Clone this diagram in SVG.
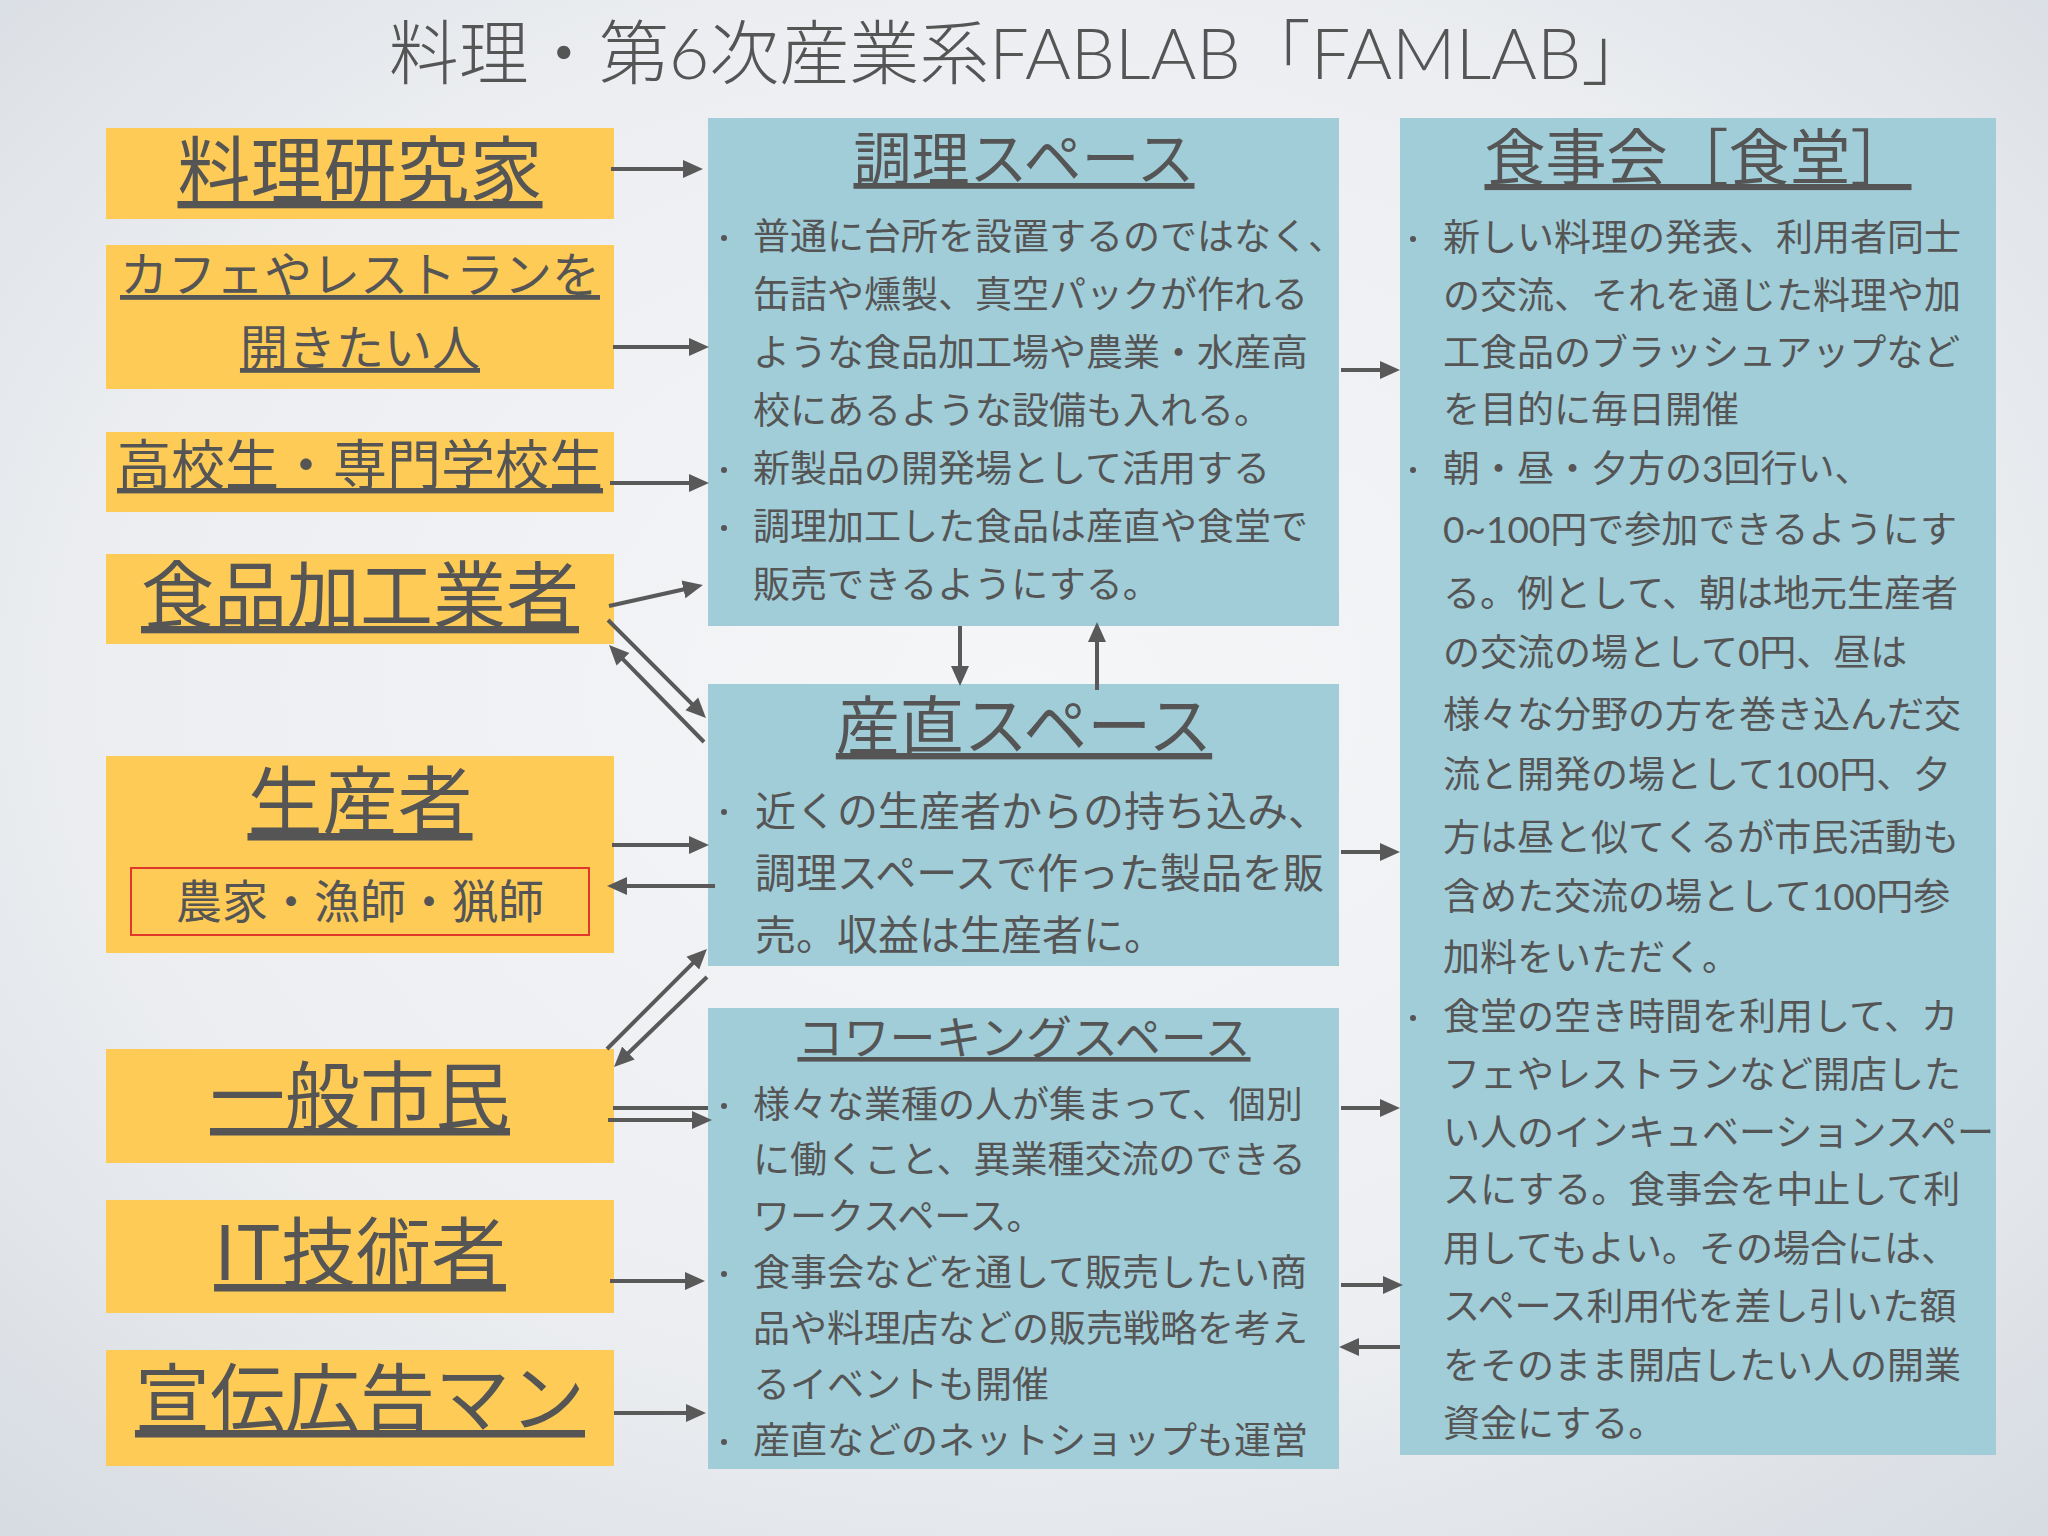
<svg xmlns="http://www.w3.org/2000/svg" width="2048" height="1536" viewBox="0 0 2048 1536">
<defs>
<radialGradient id="bg" cx="50%" cy="45%" r="75%">
<stop offset="0" stop-color="#f5f6f8"/>
<stop offset="0.6" stop-color="#eceef1"/>
<stop offset="1" stop-color="#d6dbe1"/>
</radialGradient>
<marker id="ah" markerUnits="userSpaceOnUse" markerWidth="20" markerHeight="20" refX="10" refY="10" orient="auto">
<path d="M0,1 L20,10 L0,19 z" fill="#595959"/>
</marker>
<style>
.title{font-family:"Lato","Noto Sans CJK JP",sans-serif;font-weight:300;font-size:70px;fill:#555;text-anchor:middle}
.org{fill:#fecb56}
.blu{fill:#a0cdd8}
.lbl{font-family:"Noto Sans CJK JP",sans-serif;fill:#555;text-anchor:middle;text-decoration:underline}
.sub{font-family:"Noto Sans CJK JP",sans-serif;fill:#555;text-anchor:middle;font-size:46px}
.body{font-family:"Lato","Noto Sans CJK JP",sans-serif;font-size:37px;fill:#555}
.big{font-size:41px}
.dot{fill:#555}
.con path{fill:none;stroke:#595959;stroke-width:4}
.con .a{marker-end:url(#ah)}
</style>
</defs>
<rect width="2048" height="1536" fill="url(#bg)"/>
<text class="title" x="1020" y="79">料理・第6次産業系FABLAB「FAMLAB」</text>

<g id="n-ryouri-kenkyuuka"><rect class="org" x="106" y="128" width="508" height="91"/><text class="lbl" x="360" y="197" font-size="73">料理研究家</text></g>
<g id="n-cafe"><rect class="org" x="106" y="245" width="508" height="144"/><text class="lbl" x="360" y="292" font-size="48">カフェやレストランを</text><text class="lbl" x="360" y="365" font-size="48">開きたい人</text></g>
<g id="n-student"><rect class="org" x="106" y="432" width="508" height="80"/><text class="lbl" x="360" y="485" font-size="54">高校生・専門学校生</text></g>
<g id="n-food-processor"><rect class="org" x="106" y="554" width="508" height="90"/><text class="lbl" x="360" y="622" font-size="73">食品加工業者</text></g>
<g id="n-producer"><rect class="org" x="106" y="756" width="508" height="197"/><text class="lbl" x="360" y="829" font-size="75">生産者</text><rect x="131" y="868" width="458" height="67" fill="none" stroke="#e0392b" stroke-width="2"/><text class="sub" x="360" y="918">農家・漁師・猟師</text></g>
<g id="n-citizen"><rect class="org" x="106" y="1049" width="508" height="114"/><text class="lbl" x="360" y="1124" font-size="75">一般市民</text></g>
<g id="n-it"><rect class="org" x="106" y="1200" width="508" height="113"/><text class="lbl" x="360" y="1280" font-size="75">IT技術者</text></g>
<g id="n-ad"><rect class="org" x="106" y="1350" width="508" height="116"/><text class="lbl" x="360" y="1426" font-size="75">宣伝広告マン</text></g>

<g id="n-cooking-space"><rect class="blu" x="708" y="118" width="631" height="508"/>
<text class="lbl" x="1024" y="180" font-size="58">調理スペース</text>
<circle class="dot" cx="724" cy="238" r="3"/><circle class="dot" cx="724" cy="470" r="3"/><circle class="dot" cx="724" cy="528" r="3"/>
<text class="body" x="753" y="250">普通に台所を設置するのではなく、</text>
<text class="body" x="753" y="308">缶詰や燻製、真空パックが作れる</text>
<text class="body" x="753" y="366">ような食品加工場や農業・水産高</text>
<text class="body" x="753" y="424">校にあるような設備も入れる。</text>
<text class="body" x="753" y="482">新製品の開発場として活用する</text>
<text class="body" x="753" y="540">調理加工した食品は産直や食堂で</text>
<text class="body" x="753" y="598">販売できるようにする。</text>
</g>

<g id="n-direct-space"><rect class="blu" x="708" y="684" width="631" height="282"/>
<text class="lbl" x="1024" y="749" font-size="64">産直スペース</text>
<circle class="dot" cx="724" cy="812" r="3"/>
<text class="body big" x="755" y="826">近くの生産者からの持ち込み、</text>
<text class="body big" x="755" y="888">調理スペースで作った製品を販</text>
<text class="body big" x="755" y="950">売。収益は生産者に。</text>
</g>

<g id="n-coworking"><rect class="blu" x="708" y="1008" width="631" height="461"/>
<text class="lbl" x="1024" y="1054" font-size="46">コワーキングスペース</text>
<circle class="dot" cx="724" cy="1106" r="3"/><circle class="dot" cx="724" cy="1274" r="3"/><circle class="dot" cx="724" cy="1442" r="3"/>
<text class="body" x="753" y="1118">様々な業種の人が集まって、個別</text>
<text class="body" x="753" y="1173">に働くこと、異業種交流のできる</text>
<text class="body" x="753" y="1230">ワークスペース。</text>
<text class="body" x="753" y="1286">食事会などを通して販売したい商</text>
<text class="body" x="753" y="1342">品や料理店などの販売戦略を考え</text>
<text class="body" x="753" y="1398">るイベントも開催</text>
<text class="body" x="753" y="1454">産直などのネットショップも運営</text>
</g>

<g id="n-dining"><rect class="blu" x="1400" y="118" width="596" height="1337"/>
<text class="lbl" x="1698" y="180" font-size="61">食事会［食堂］</text>
<circle class="dot" cx="1413" cy="239" r="3"/><circle class="dot" cx="1413" cy="470" r="3"/><circle class="dot" cx="1413" cy="1018" r="3"/>
<text class="body" x="1443" y="251">新しい料理の発表、利用者同士</text>
<text class="body" x="1443" y="309">の交流、それを通じた料理や加</text>
<text class="body" x="1443" y="366">工食品のブラッシュアップなど</text>
<text class="body" x="1443" y="423">を目的に毎日開催</text>
<text class="body" x="1443" y="482">朝・昼・夕方の3回行い、</text>
<text class="body" x="1443" y="543">0~100円で参加できるようにす</text>
<text class="body" x="1443" y="607">る。例として、朝は地元生産者</text>
<text class="body" x="1443" y="666">の交流の場として0円、昼は</text>
<text class="body" x="1443" y="728">様々な分野の方を巻き込んだ交</text>
<text class="body" x="1443" y="788">流と開発の場として100円、夕</text>
<text class="body" x="1443" y="851">方は昼と似てくるが市民活動も</text>
<text class="body" x="1443" y="910">含めた交流の場として100円参</text>
<text class="body" x="1443" y="971">加料をいただく。</text>
<text class="body" x="1443" y="1030">食堂の空き時間を利用して、カ</text>
<text class="body" x="1443" y="1088">フェやレストランなど開店した</text>
<text class="body" x="1443" y="1146">い人のインキュベーションスペー</text>
<text class="body" x="1443" y="1203">スにする。食事会を中止して利</text>
<text class="body" x="1443" y="1262">用してもよい。その場合には、</text>
<text class="body" x="1443" y="1320">スペース利用代を差し引いた額</text>
<text class="body" x="1443" y="1379">をそのまま開店したい人の開業</text>
<text class="body" x="1443" y="1437">資金にする。</text>
</g>

<g id="connectors" class="con">
<path class="a" d="M611,169 L693,169"/>
<path class="a" d="M613,347 L699,347"/>
<path class="a" d="M610,483 L699,483"/>
<path class="a" d="M609,606 L693.2,587.2"/>
<path class="a" d="M608,620 L698.9,710.9"/>
<path class="a" d="M704,742 L616,652.1"/>
<path class="a" d="M960,626 L960,676"/>
<path class="a" d="M1097,690 L1097,632"/>
<path class="a" d="M612,845 L699,845"/>
<path class="a" d="M715,886 L617,886"/>
<path class="a" d="M607,1049 L699.9,956.1"/>
<path class="a" d="M707,977 L621.2,1060"/>
<path d="M613,1108 L708,1108"/>
<path class="a" d="M608,1120 L702,1120"/>
<path class="a" d="M610,1281 L695,1281"/>
<path class="a" d="M614,1413 L696,1413"/>
<path class="a" d="M1341,370 L1390,370"/>
<path class="a" d="M1341,852 L1390,852"/>
<path class="a" d="M1341,1108 L1390,1108"/>
<path class="a" d="M1341,1285 L1393,1285"/>
<path class="a" d="M1400,1347 L1349,1347"/>
</g>
</svg>
